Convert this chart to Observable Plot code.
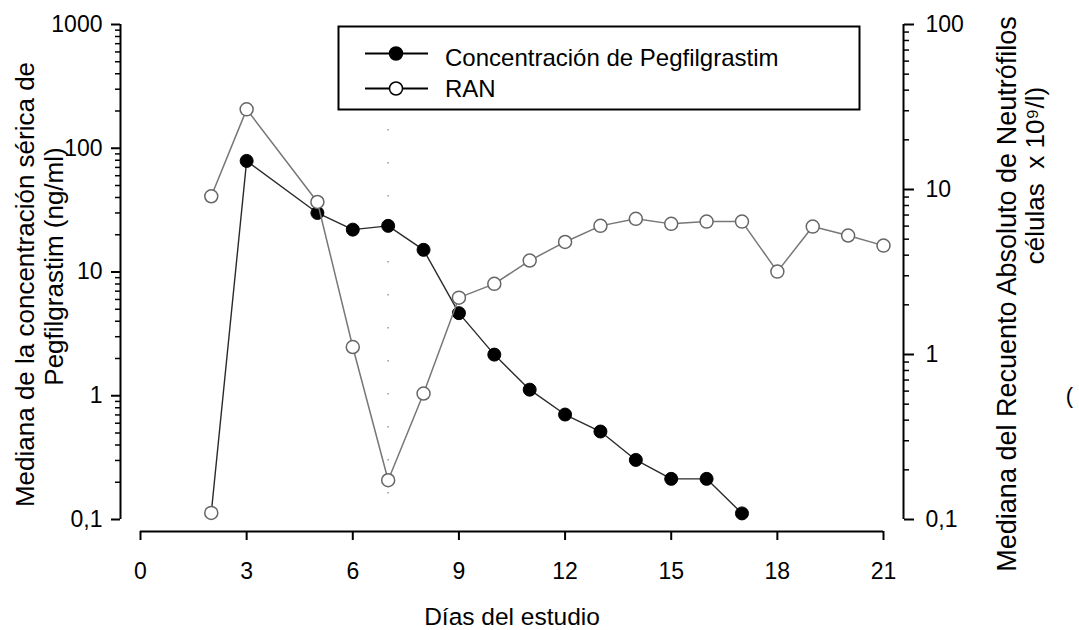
<!DOCTYPE html>
<html><head><meta charset="utf-8">
<script src="https://cdn.jsdelivr.net/npm/d3@7"></script>
<script src="https://cdn.jsdelivr.net/npm/@observablehq/plot@0.6"></script>
<style>
html,body{margin:0;padding:0;background:#fff;}
#chart{position:relative;width:1079px;height:630px;font-family:"Liberation Sans",Arial,sans-serif;}
#chart svg{position:absolute;left:0;top:0;}
</style></head><body><div id="chart"></div>
<script>
// ---- data ----
const pegDays   = [2, 3, 5, 6, 7, 8, 9, 10, 11, 12, 13, 14, 15, 16, 17];
const pegValues = [0.113, 79, 30, 22, 23.6, 15.1, 4.65, 2.15, 1.12, 0.705, 0.514, 0.303, 0.213, 0.213, 0.112];
const ranDays   = [2, 3, 5, 6, 7, 8, 9, 10, 11, 12, 13, 14, 15, 16, 17, 18, 19, 20, 21];
const ranValues = [9.1, 30.6, 8.4, 1.11, 0.173, 0.58, 2.21, 2.68, 3.71, 4.81, 6.02, 6.64, 6.19, 6.39, 6.39, 3.18, 5.96, 5.26, 4.57];
const xTicks = [0, 3, 6, 9, 12, 15, 18, 21];
const leftTicks = [0.1, 1, 10, 100, 1000];
const leftTickLabels = ["0,1", "1", "10", "100", "1000"];
const rightTicks = [0.1, 1, 10, 100];
const rightTickLabels = ["0,1", "1", "10", "100"];
const legendLabels = ["Concentración de Pegfilgrastim", "RAN"];
const xTitle = "Días del estudio";
const leftTitle = ["Mediana de la concentración sérica de", "Pegfilgrastim (ng/ml)"];
const rightTitle = ["Mediana del Recuento Absoluto de Neutrófilos", "células  x 10⁹/l)", "("];
const guideDay = [7];

const peg = pegDays.map((day, i) => ({day, value: pegValues[i]}));
const ran = ranDays.map((day, i) => ({day, value: ranValues[i]}));
function minorTicks(lo, hi) { const t = []; for (let e = lo; e < hi; e++) for (let k = 2; k <= 9; k++) t.push(+(k * 10 ** e).toPrecision(6)); return t; }

const W = 1079, H = 630;
const FONT = '"Liberation Sans", Arial, sans-serif';
const base = {width: W, height: H, marginLeft: 120, marginRight: 176, marginTop: 24, marginBottom: 99};
const xScale = {domain: [0, 21], range: [140, 883]};

const left = Plot.plot({
  ...base,
  style: {fontFamily: FONT, fontSize: "23px", color: "black", background: "white"},
  x: {...xScale},
  y: {type: "log", domain: [0.1, 1000], range: [519, 24]},
  marks: [
    Plot.ruleX(guideDay, {y1: 894, y2: 0.156, stroke: "#9a9a9a", strokeWidth: 1.5, strokeDasharray: "1.5,31.5"}),
    Plot.ruleX([0], {y1: 0.1, y2: 1000, dx: -20, stroke: "black", strokeWidth: 2}),
    Plot.axisY(leftTicks, {anchor: "left", tickSize: 9, tickPadding: 9, strokeWidth: 2, fontSize: 23, label: null,
      tickFormat: d => leftTickLabels[leftTicks.indexOf(d)]}),
    Plot.axisY(minorTicks(-1, 3), {anchor: "left", tickSize: 5, strokeWidth: 1.5, label: null, tickFormat: () => ""}),
    Plot.ruleY([0.1], {x1: 0, x2: 21, dy: 12, stroke: "black", strokeWidth: 2}),
    Plot.axisX(xTicks, {anchor: "bottom", tickSize: 9, tickPadding: 22, strokeWidth: 2, fontSize: 23, label: null,
      tickFormat: d => String(d)}),
    Plot.line(peg, {x: "day", y: "value", stroke: "#2a2a2a", strokeWidth: 1.4}),
    Plot.dot(peg.filter(d => d.day === pegDays[0]), {x: "day", y: "value", r: 6.5, fill: "white", stroke: "#666", strokeWidth: 1.5}),
    Plot.dot(peg.filter(d => d.day !== pegDays[0]), {x: "day", y: "value", r: 6.5, fill: "black", stroke: "black", strokeWidth: 1}),
    Plot.text([leftTitle[0]], {frameAnchor: "left", rotate: -90, dx: -95, dy: 6.5, fontSize: 26, textAnchor: "middle", lineAnchor: "middle"}),
    Plot.text([leftTitle[1]], {frameAnchor: "left", rotate: -90, dx: -66, dy: -11.5, fontSize: 26, textAnchor: "middle", lineAnchor: "middle"}),
    Plot.text([xTitle], {frameAnchor: "bottom", dy: 86, fontSize: 24.5, textAnchor: "middle", lineAnchor: "middle"})
  ]
});

const right = Plot.plot({
  ...base,
  style: {fontFamily: FONT, fontSize: "23px", color: "black", background: "transparent"},
  x: {...xScale, axis: null},
  y: {type: "log", domain: [0.1, 100], range: [519, 24], axis: null},
  marks: [
    Plot.ruleX([21], {y1: 0.1, y2: 100, dx: 20, stroke: "black", strokeWidth: 2}),
    Plot.axisY(rightTicks, {anchor: "right", tickSize: 10, tickPadding: 12, strokeWidth: 2, fontSize: 23, label: null,
      tickFormat: d => rightTickLabels[rightTicks.indexOf(d)]}),
    Plot.axisY(minorTicks(-1, 2), {anchor: "right", tickSize: 5, strokeWidth: 1.5, label: null, tickFormat: () => ""}),
    Plot.line(ran, {x: "day", y: "value", stroke: "#777", strokeWidth: 1.5}),
    Plot.dot(ran, {x: "day", y: "value", r: 6.5, fill: "white", stroke: "#666", strokeWidth: 1.5}),
    Plot.text([rightTitle[0]], {frameAnchor: "right", rotate: -90, dx: 104, dy: 16, fontSize: 27, textAnchor: "middle", lineAnchor: "middle"}),
    Plot.text([rightTitle[1]], {frameAnchor: "right", rotate: -90, dx: 132, dy: -102.5, fontSize: 26, textAnchor: "middle", lineAnchor: "middle"}),
    Plot.text([rightTitle[2]], {frameAnchor: "right", dx: 166, dy: 117.5, fontSize: 22, textAnchor: "middle", lineAnchor: "middle"})
  ]
});

// legend overlay
const leg = d3.create("svg").attr("width", W).attr("height", H).style("background", "transparent");
leg.append("rect").attr("x", 338.5).attr("y", 26.5).attr("width", 521).attr("height", 83)
  .attr("fill", "white").attr("stroke", "black").attr("stroke-width", 2);
const fills = ["black", "white"];
legendLabels.forEach((lab, i) => {
  const cy = 53.5 + 35 * i;
  leg.append("line").attr("x1", 365).attr("x2", 428).attr("y1", cy).attr("y2", cy).attr("stroke", "black").attr("stroke-width", 1.8);
  leg.append("circle").attr("cx", 396).attr("cy", cy).attr("r", 6.5).attr("fill", fills[i]).attr("stroke", "black").attr("stroke-width", 1.5);
  leg.append("text").attr("x", 445).attr("y", cy + 8.5 + (i === 0 ? 3.5 : 0)).attr("font-size", 24).attr("font-family", FONT).attr("fill", "black").text(lab);
});

const el = document.getElementById("chart");
el.append(left);
el.append(right);
el.append(leg.node());
</script></body></html>
